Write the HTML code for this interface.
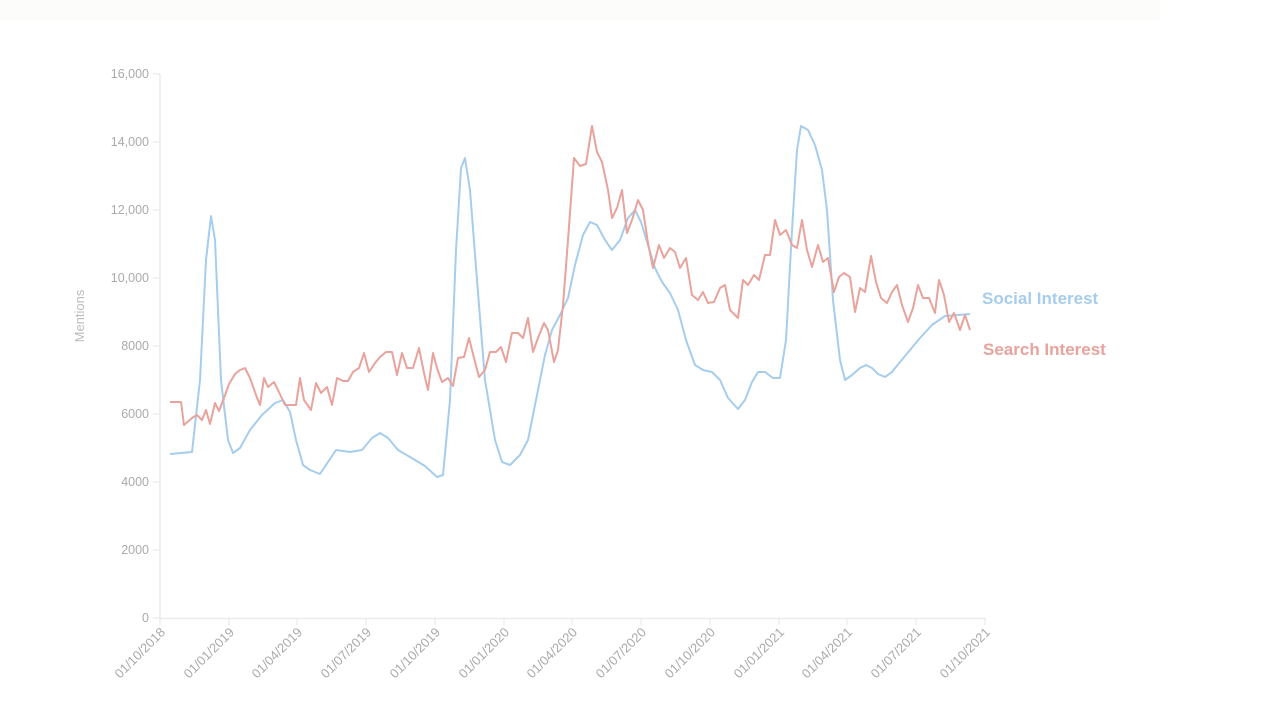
<!DOCTYPE html>
<html><head><style>
body{margin:0;background:#fff;width:1274px;height:715px;overflow:hidden}
svg{position:absolute;top:0;left:0}
text{font-family:"Liberation Sans",sans-serif}
</style></head><body>
<svg width="1274" height="715" viewBox="0 0 1274 715">
<rect x="0" y="0" width="1160" height="20" fill="#fcfdfb"/>
<g stroke="#ebebeb" stroke-width="1.5" fill="none">
<line x1="160" y1="74" x2="160" y2="619"/>
<line x1="160" y1="618.5" x2="986" y2="618.5"/>
</g>
<g stroke="#e6e6e6" stroke-width="1">
<line x1="153" y1="74" x2="160" y2="74"/><line x1="153" y1="142" x2="160" y2="142"/><line x1="153" y1="210" x2="160" y2="210"/><line x1="153" y1="278" x2="160" y2="278"/><line x1="153" y1="346" x2="160" y2="346"/><line x1="153" y1="414" x2="160" y2="414"/><line x1="153" y1="482" x2="160" y2="482"/><line x1="153" y1="550" x2="160" y2="550"/><line x1="153" y1="618" x2="160" y2="618"/>
<line x1="160" y1="618" x2="160" y2="625"/><line x1="229" y1="618" x2="229" y2="625"/><line x1="297" y1="618" x2="297" y2="625"/><line x1="366" y1="618" x2="366" y2="625"/><line x1="435" y1="618" x2="435" y2="625"/><line x1="504" y1="618" x2="504" y2="625"/><line x1="572" y1="618" x2="572" y2="625"/><line x1="641" y1="618" x2="641" y2="625"/><line x1="710" y1="618" x2="710" y2="625"/><line x1="779" y1="618" x2="779" y2="625"/><line x1="847" y1="618" x2="847" y2="625"/><line x1="916" y1="618" x2="916" y2="625"/><line x1="985" y1="618" x2="985" y2="625"/>
</g>
<g fill="#aaa" font-size="12.5" text-anchor="end">
<text x="149" y="78">16,000</text><text x="149" y="146">14,000</text><text x="149" y="214">12,000</text><text x="149" y="282">10,000</text><text x="149" y="350">8000</text><text x="149" y="418">6000</text><text x="149" y="486">4000</text><text x="149" y="554">2000</text><text x="149" y="622">0</text>
</g>
<g fill="#aaa" font-size="13" text-anchor="end">
<text transform="translate(166,633) rotate(-45)">01/10/2018</text>
<text transform="translate(235,633) rotate(-45)">01/01/2019</text>
<text transform="translate(303,633) rotate(-45)">01/04/2019</text>
<text transform="translate(372,633) rotate(-45)">01/07/2019</text>
<text transform="translate(441,633) rotate(-45)">01/10/2019</text>
<text transform="translate(510,633) rotate(-45)">01/01/2020</text>
<text transform="translate(578,633) rotate(-45)">01/04/2020</text>
<text transform="translate(647,633) rotate(-45)">01/07/2020</text>
<text transform="translate(716,633) rotate(-45)">01/10/2020</text>
<text transform="translate(785,633) rotate(-45)">01/01/2021</text>
<text transform="translate(853,633) rotate(-45)">01/04/2021</text>
<text transform="translate(922,633) rotate(-45)">01/07/2021</text>
<text transform="translate(991,633) rotate(-45)">01/10/2021</text>
</g>
<text transform="translate(84,316) rotate(-90)" fill="#bbb" font-size="13" text-anchor="middle">Mentions</text>
<polyline fill="none" stroke="#a6cdec" stroke-width="2" stroke-linejoin="round" points="170,454 192,452 200,380 206,260 211,216 215,240 221,380 228,440 233,453 240,448 250,430 262,415 275,403 283,400 290,412 296,440 303,465 310,470 320,474 328,462 336,450 350,452 362,450 372,438 380,433 388,438 398,450 410,457 425,466 437,477 443,475 450,400 456,250 461,168 465,158 470,190 477,280 485,380 495,440 502,462 510,465 520,455 528,440 536,400 545,355 552,330 560,315 568,298 575,265 583,235 590,222 597,225 605,240 612,250 620,240 628,218 635,210 641,222 648,245 655,268 662,282 670,293 678,310 686,340 695,365 703,370 712,372 720,380 728,398 738,409 745,400 752,382 758,372 765,372 773,378 780,378 786,340 792,230 797,150 801,126 808,130 815,145 822,170 827,210 833,300 840,360 845,380 852,375 860,368 866,365 872,368 878,374 885,377 892,372 900,362 910,350 920,338 932,325 945,316 970,314"/>
<polyline fill="none" stroke="#e8a39c" stroke-width="2" stroke-linejoin="round" points="170,402 181,402 184,425 192,418 197,415 202,420 206,410 210,424 215,403 219,411 224,398 229,384 235,374 240,370 245,368 250,378 256,395 260,405 264,378 268,387 274,382 278,390 285,405 296,405 300,378 304,400 311,410 316,383 321,393 327,387 332,405 337,378 343,381 348,381 353,372 359,368 364,353 369,372 375,363 380,357 386,352 392,352 397,375 402,353 407,368 413,368 419,348 424,373 428,390 433,353 437,368 442,382 448,378 453,386 458,358 464,357 469,338 474,358 479,377 485,370 490,352 496,352 501,347 506,362 512,333 518,333 523,338 528,318 533,352 538,338 544,323 548,330 554,362 558,350 563,305 568,240 574,158 580,166 586,164 592,126 597,152 602,162 608,190 612,218 617,208 622,190 627,233 632,220 638,200 643,210 648,243 653,268 659,245 664,258 670,248 675,252 680,268 686,258 692,295 698,300 703,292 708,303 714,302 720,288 725,285 730,310 738,318 743,280 748,285 754,275 759,280 765,255 770,255 775,220 780,235 786,230 792,245 797,248 802,220 807,250 812,267 818,245 823,262 828,258 834,292 839,277 844,273 850,277 855,312 860,288 865,292 871,256 876,282 881,298 887,303 892,292 897,285 902,305 908,322 913,308 918,285 923,298 929,298 935,313 939,280 944,295 949,322 954,313 960,330 965,315 970,330"/>
<text x="982" y="304" fill="#a6cdec" font-size="17" font-weight="bold">Social Interest</text>
<text x="983" y="355" fill="#e8a39c" font-size="17" font-weight="bold">Search Interest</text>
</svg>
</body></html>
